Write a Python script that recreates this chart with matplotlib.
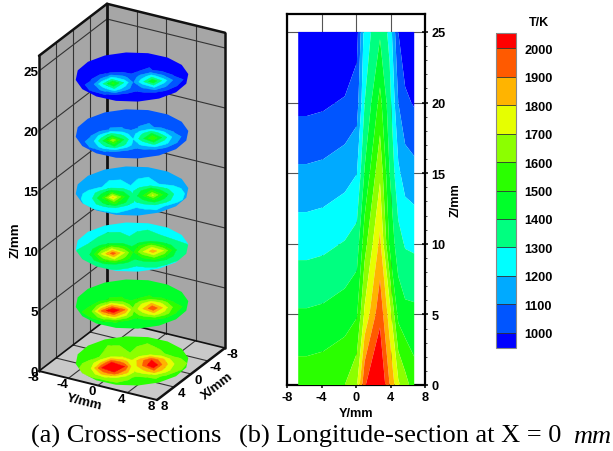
import numpy as np
import matplotlib
matplotlib.use('Agg')
import matplotlib.pyplot as plt
from matplotlib.patches import Polygon
from matplotlib.transforms import Affine2D

plt.rcParams['font.family'] = ['Liberation Sans', 'DejaVu Sans']
plt.rcParams['font.weight'] = 'bold'
plt.rcParams['axes.labelweight'] = 'bold'
plt.rcParams['axes.unicode_minus'] = False
plt.rcParams['font.size'] = 9.2

# temperature bands
levels = [1000, 1100, 1200, 1300, 1400, 1500, 1600, 1700, 1800, 1900, 2000]
band_colors = ['#0000ff', '#0055ff', '#00aaff', '#00ffff', '#00ff80', '#00ff2a',
               '#2aff00', '#8cff00', '#e6ff00', '#ffb400', '#ff5a00', '#ff0000']

# longitude section at X = 0
long_y = [-6.7, -5.7, -3.8, -1.3, 0.1, 1.0, 2.78, 3.9, 4.9, 5.7, 6.75]
long_z = [0, 5, 10, 15, 20, 25]
long_t = [
    [1560, 1560, 1570, 1600, 1690, 1990, 2120, 1900, 1720, 1640, 1550],
    [1413, 1413, 1423, 1454, 1490, 1720, 1973, 1750, 1470, 1430, 1425],
    [1266, 1266, 1276, 1307, 1345, 1560, 1826, 1480, 1340, 1290, 1280],
    [1119, 1119, 1129, 1160, 1198, 1410, 1680, 1400, 1220, 1155, 1135],
    [972, 972, 982, 1013, 1052, 1300, 1532, 1340, 1100, 1020, 990],
    [825, 825, 835, 866, 960, 1240, 1385, 1270, 1000, 930, 845],
]

# cross sections, on axes along and across the line through the two hot spots
sec_s = [-7, -5, -3.7, -2.4, -1, 0, 1, 2.3, 3.6, 5, 7]
sec_t = [-7, -1.5, 0, 1.4, 3, 4.5, 7]
sec_z = [-0.12, 4.62, 9.37, 14.04, 18.8, 23.54]
sec_0 = [
    [1530, 1530, 1530, 1530, 1530, 1530, 1530, 1530, 1530, 1530, 1530],
    [1540, 1560, 1600, 1680, 1670, 1610, 1650, 1680, 1620, 1550, 1540],
    [1550, 1640, 1800, 2000, 1850, 1720, 1860, 2000, 1830, 1630, 1550],
    [1560, 1700, 2010, 2200, 2000, 1730, 1890, 2120, 1860, 1680, 1560],
    [1550, 1650, 1850, 1960, 1830, 1690, 1760, 1880, 1760, 1620, 1550],
    [1540, 1570, 1610, 1650, 1620, 1580, 1600, 1620, 1580, 1545, 1540],
    [1530, 1530, 1530, 1530, 1530, 1530, 1530, 1530, 1530, 1530, 1530],
]
sec_5 = [
    [1410, 1410, 1410, 1410, 1410, 1410, 1410, 1410, 1410, 1410, 1410],
    [1420, 1435, 1470, 1510, 1510, 1470, 1500, 1510, 1470, 1430, 1420],
    [1430, 1500, 1660, 1820, 1690, 1550, 1680, 1800, 1670, 1490, 1430],
    [1440, 1570, 1930, 2110, 1910, 1620, 1780, 1990, 1780, 1540, 1440],
    [1430, 1510, 1700, 1830, 1700, 1560, 1650, 1750, 1650, 1490, 1430],
    [1420, 1445, 1480, 1510, 1480, 1450, 1470, 1490, 1455, 1425, 1420],
    [1410, 1410, 1410, 1410, 1410, 1410, 1410, 1410, 1410, 1410, 1410],
]
sec_10 = [
    [1240, 1240, 1240, 1240, 1240, 1240, 1240, 1240, 1240, 1240, 1240],
    [1260, 1300, 1325, 1360, 1355, 1320, 1350, 1365, 1320, 1300, 1260],
    [1280, 1360, 1520, 1680, 1550, 1410, 1540, 1660, 1510, 1360, 1280],
    [1290, 1410, 1720, 1960, 1700, 1490, 1680, 1860, 1700, 1410, 1290],
    [1280, 1370, 1560, 1700, 1550, 1420, 1510, 1610, 1510, 1350, 1280],
    [1260, 1310, 1345, 1370, 1345, 1320, 1345, 1360, 1320, 1290, 1260],
    [1240, 1240, 1240, 1240, 1240, 1240, 1240, 1240, 1240, 1240, 1240],
]
sec_15 = [
    [1130, 1130, 1130, 1130, 1130, 1130, 1130, 1130, 1130, 1130, 1130],
    [1130, 1170, 1190, 1230, 1230, 1200, 1230, 1240, 1190, 1170, 1130],
    [1140, 1240, 1360, 1500, 1390, 1280, 1390, 1500, 1360, 1240, 1140],
    [1150, 1270, 1500, 1810, 1500, 1320, 1480, 1720, 1480, 1270, 1140],
    [1150, 1250, 1390, 1530, 1390, 1290, 1360, 1440, 1360, 1230, 1140],
    [1140, 1190, 1220, 1260, 1220, 1200, 1220, 1240, 1190, 1160, 1130],
    [1130, 1130, 1130, 1130, 1130, 1130, 1130, 1130, 1130, 1130, 1130],
]
sec_20 = [
    [1040, 1040, 1040, 1040, 1040, 1040, 1040, 1040, 1040, 1040, 1040],
    [1040, 1045, 1060, 1105, 1105, 1075, 1105, 1115, 1070, 1050, 1040],
    [1040, 1090, 1230, 1380, 1270, 1150, 1270, 1390, 1230, 1090, 1040],
    [1045, 1130, 1380, 1670, 1380, 1200, 1360, 1600, 1360, 1130, 1040],
    [1045, 1110, 1270, 1410, 1270, 1160, 1230, 1320, 1230, 1100, 1040],
    [1040, 1050, 1080, 1100, 1080, 1065, 1080, 1095, 1060, 1050, 1040],
    [1040, 1040, 1040, 1040, 1040, 1040, 1040, 1040, 1040, 1040, 1040],
]
sec_25 = [
    [940, 940, 940, 940, 940, 940, 940, 940, 940, 940, 940],
    [940, 945, 960, 995, 995, 970, 1000, 1010, 965, 950, 940],
    [940, 980, 1100, 1240, 1140, 1040, 1140, 1250, 1110, 980, 940],
    [945, 1030, 1280, 1530, 1280, 1090, 1260, 1490, 1260, 1050, 940],
    [945, 1010, 1140, 1280, 1140, 1050, 1110, 1210, 1110, 1000, 940],
    [940, 950, 980, 995, 980, 965, 980, 990, 960, 950, 940],
    [940, 940, 940, 940, 940, 940, 940, 940, 940, 940, 940],
]
sections = [sec_0, sec_5, sec_10, sec_15, sec_20, sec_25]
sec_radius = 6.65

box_ticks = [-8, -4, 0, 4, 8]
z_ticks = [0, 5, 10, 15, 20, 25]
z_top = 26.27

# pixels per mm of the oblique view on the left
origin = np.array([132.0, 360.5])
y_dir = np.array([7.375, 1.81])
x_dir = np.array([-4.25, 3.25])
z_dir = np.array([0.0, -12.0])


def project(y, x, z):
    return origin + np.asarray(y) * y_dir + np.asarray(x) * x_dir + np.asarray(z) * z_dir


def section_transform(z, base):
    # section axes are turned 36 degrees from the Y/X axes
    c, s = np.cos(np.radians(36)), np.sin(np.radians(36))
    s_dir = c * y_dir - s * x_dir
    t_dir = s * y_dir + c * x_dir
    o = project(0, 0, z)
    mat = np.array([[s_dir[0], t_dir[0], o[0]],
                    [s_dir[1], t_dir[1], o[1]],
                    [0, 0, 1]])
    return Affine2D(mat) + base


def box_line(ax, a, b, color='#333333', lw=0.8):
    p = np.array([project(*a), project(*b)])
    ax.plot(p[:, 0], p[:, 1], color=color, lw=lw, solid_capstyle='round')


fig = plt.figure(figsize=(6.13, 4.52), dpi=100)

# (a) whole figure axes in pixels, holds the oblique box and the captions
ax = fig.add_axes([0, 0, 1, 1])
ax.set_xlim(0, 613)
ax.set_ylim(452, 0)
ax.axis('off')

left_wall = [project(-8, 8, 0), project(-8, -8, 0), project(-8, -8, z_top), project(-8, 8, z_top)]
back_wall = [project(-8, -8, 0), project(8, -8, 0), project(8, -8, z_top), project(-8, -8, z_top)]
floor = [project(-8, 8, 0), project(-8, -8, 0), project(8, -8, 0), project(8, 8, 0)]
ax.add_patch(Polygon(left_wall, fc='#a6a6a6', ec='none'))
ax.add_patch(Polygon(back_wall, fc='#a6a6a6', ec='none'))
ax.add_patch(Polygon(floor, fc='#c9c9c9', ec='none'))

for v in box_ticks[1:-1]:
    box_line(ax, (-8, v, 0), (-8, v, z_top))
    box_line(ax, (v, -8, 0), (v, -8, z_top))
    box_line(ax, (-8, v, 0), (8, v, 0))
    box_line(ax, (v, -8, 0), (v, 8, 0))
for z in z_ticks[1:]:
    box_line(ax, (-8, 8, z), (-8, -8, z))
    box_line(ax, (-8, -8, z), (8, -8, z))

heavy = '#111111'
box_line(ax, (-8, -8, 0), (-8, -8, z_top), heavy, 2.0)
box_line(ax, (-8, 8, 0), (-8, 8, z_top), heavy, 1.8)
box_line(ax, (8, -8, 0), (8, -8, z_top), heavy, 1.8)
box_line(ax, (-8, 8, z_top), (-8, -8, z_top), heavy, 1.8)
box_line(ax, (-8, -8, z_top), (8, -8, z_top), heavy, 1.8)
box_line(ax, (-8, 8, 0), (-8, -8, 0), heavy, 1.2)
box_line(ax, (-8, -8, 0), (8, -8, 0), heavy, 1.2)
box_line(ax, (-8, 8, 0), (8, 8, 0), heavy, 1.4)
box_line(ax, (8, 8, 0), (8, -8, 0), heavy, 1.8)

angles = np.radians(np.arange(0, 360, 22.5))
outline = np.column_stack([sec_radius * np.cos(angles), sec_radius * np.sin(angles)])
for z, table in zip(sec_z, sections):
    tr = section_transform(z, ax.transData)
    cs = ax.contourf(sec_s, sec_t, table, levels=levels, colors=band_colors,
                     extend='both', transform=tr, antialiased=True, zorder=3)
    cs.set_edgecolor('face')
    cs.set_linewidth(0.3)
    cs.set_clip_path(Polygon(outline, transform=tr))
ax.set_xlim(0, 613)
ax.set_ylim(452, 0)

for z in z_ticks:
    px, py = project(-8, 8, z)
    ax.text(px - 1, py + 1, str(z), ha='right', va='center', fontsize=9.6)
for v in box_ticks:
    px, py = project(v, 8, 0)
    ax.text(px - 6, py + 6, str(v), ha='center', va='center', fontsize=9.6)
    px, py = project(8, v, 0)
    ax.text(px + 7, py + 6, str(v), ha='center', va='center', fontsize=9.6)
ax.text(84, 402, 'Y/mm', ha='center', va='center', rotation=-14, fontsize=9.6)
ax.text(217, 386, 'X/mm', ha='center', va='center', rotation=38, fontsize=9.6)
ax.text(16, 240, 'Z/mm', ha='center', va='center', rotation=90, fontsize=9.6)

ax.text(31, 443, '(a) Cross-sections', family='Liberation Serif', weight='normal',
        fontsize=19, ha='left', va='baseline')
ax.text(239, 443, '(b) Longitude-section at X = 0', family='Liberation Serif', weight='normal',
        fontsize=19, ha='left', va='baseline')
ax.text(611, 443, 'mm', family='Liberation Serif', weight='normal', style='italic',
        fontsize=19, ha='right', va='baseline')

# (b)
ax2 = fig.add_axes([287 / 613, 1 - 386 / 452, 138 / 613, 371 / 452])
long_cs = ax2.contourf(long_y, long_z, long_t, levels=levels, colors=band_colors, extend='both',
                       antialiased=True, zorder=3)
ax2.set_xlim(-8, 8)
ax2.set_ylim(0, z_top)
ax2.set_xticks(box_ticks)
ax2.set_yticks(z_ticks)
ax2.yaxis.tick_right()
ax2.yaxis.set_label_position('right')
ax2.tick_params(direction='inout', length=5, width=1.1, pad=2)
ax2.set_yticks(np.arange(0, 26, 1), minor=True)
ax2.tick_params(axis='y', which='minor', direction='out', length=1.5, width=0.5)
ax2.grid(True, color='#555555', lw=0.8)
ax2.set_axisbelow(True)
for spine in ax2.spines.values():
    spine.set_linewidth(1.6)
ax2.set_xlabel('Y/mm', labelpad=3)
ax2.set_ylabel('Z/mm', labelpad=3)

# colour bar
cax = fig.add_axes([496 / 613, 1 - 349 / 452, 20 / 613, 315 / 452])
cb = fig.colorbar(long_cs, cax=cax, extend='both', extendrect=True, extendfrac=0.053, drawedges=True)
cb.set_ticks(levels)
cb.ax.tick_params(length=0, pad=6)
cb.dividers.set_color('#333333')
cb.dividers.set_linewidth(0.6)
cb.outline.set_edgecolor('#888888')
cb.outline.set_linewidth(0.8)
ax.text(539, 23, 'T/K', ha='center', va='center', fontsize=9)

fig.savefig('out.png', dpi=100)
